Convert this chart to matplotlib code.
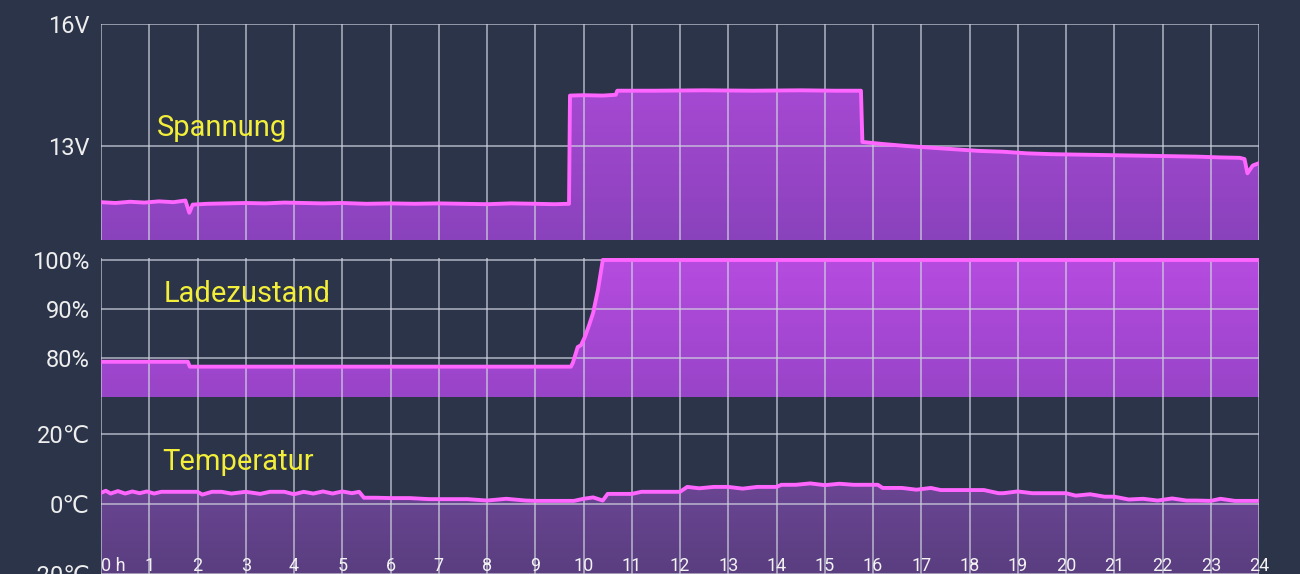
import numpy as np
import matplotlib
matplotlib.use('Agg')
import matplotlib.pyplot as plt
from matplotlib.colors import LinearSegmentedColormap
from matplotlib.patches import PathPatch

plt.rcParams['font.family'] = ['Roboto', 'DejaVu Sans']

# Spannung (V) over the day
volt_h = [0.0, 0.3, 0.6, 0.9, 1.2, 1.5, 1.75, 1.83, 1.9, 2.2,
          2.6, 3.0, 3.4, 3.8, 4.2, 4.6, 5.0, 5.5, 6.0, 6.5,
          7.0, 7.5, 8.0, 8.5, 9.0, 9.4, 9.70, 9.72, 10.0, 10.4,
          10.67, 10.70, 11.5, 12.5, 13.5, 14.5, 15.2, 15.75, 15.78, 16.2,
          16.7, 17.2, 17.7, 18.2, 18.7, 19.2, 19.7, 20.2, 20.7, 21.2,
          21.7, 22.2, 22.7, 23.2, 23.6, 23.7, 23.76, 23.87, 24.0]
volt_v = [11.62, 11.60, 11.63, 11.61, 11.64, 11.62, 11.66, 11.36, 11.56, 11.58,
          11.59, 11.60, 11.59, 11.61, 11.60, 11.59, 11.60, 11.58, 11.59, 11.58,
          11.59, 11.58, 11.57, 11.59, 11.58, 11.57, 11.58, 14.24, 14.25, 14.24,
          14.26, 14.36, 14.36, 14.37, 14.36, 14.37, 14.36, 14.36, 13.10, 13.05,
          13.00, 12.96, 12.92, 12.88, 12.86, 12.82, 12.80, 12.79, 12.78, 12.77,
          12.76, 12.75, 12.74, 12.72, 12.71, 12.68, 12.33, 12.52, 12.58]

# Ladezustand (%)
soc_h = [0.0, 1.80, 1.84, 9.74, 9.78, 9.88, 9.95, 10.03, 10.12, 10.20, 10.30, 10.40, 24.0]
soc_v = [79.2, 79.2, 78.2, 78.2, 79.0, 82.2, 82.6, 84.3, 86.8, 89.2, 93.9, 100.0, 100.0]

# Temperatur (C)
temp_h = [0.00, 0.10, 0.20, 0.35, 0.50, 0.65, 0.80, 0.95, 1.10, 1.25,
          1.40, 1.60, 1.80, 2.00, 2.10, 2.30, 2.50, 2.70, 3.00, 3.30,
          3.50, 3.80, 4.00, 4.20, 4.40, 4.60, 4.80, 5.00, 5.20, 5.35,
          5.45, 5.70, 6.00, 6.40, 6.80, 7.20, 7.60, 8.00, 8.40, 8.80,
          9.00, 9.50, 9.80, 10.00, 10.20, 10.40, 10.50, 10.70, 11.00, 11.20,
          11.40, 11.70, 12.00, 12.15, 12.40, 12.70, 13.00, 13.30, 13.60, 14.00,
          14.10, 14.40, 14.70, 15.00, 15.30, 15.60, 15.80, 16.10, 16.20, 16.60,
          16.90, 17.20, 17.40, 17.70, 18.00, 18.30, 18.60, 18.70, 19.00, 19.30,
          19.60, 20.00, 20.20, 20.50, 20.80, 21.00, 21.30, 21.60, 21.90, 22.20,
          22.50, 22.70, 23.00, 23.20, 23.50, 24.00]
temp_v = [3.2, 3.8, 3.0, 3.7, 3.0, 3.6, 3.1, 3.6, 3.0, 3.5,
          3.5, 3.5, 3.5, 3.5, 2.7, 3.5, 3.5, 3.0, 3.5, 2.9,
          3.5, 3.5, 2.8, 3.5, 3.0, 3.6, 3.0, 3.6, 3.1, 3.5,
          1.8, 1.8, 1.7, 1.7, 1.4, 1.4, 1.4, 1.0, 1.5, 1.0,
          0.9, 0.9, 0.9, 1.5, 1.9, 1.0, 2.9, 2.9, 2.9, 3.5,
          3.5, 3.5, 3.5, 4.9, 4.5, 4.9, 4.9, 4.4, 4.9, 4.9,
          5.5, 5.5, 5.9, 5.4, 5.8, 5.5, 5.5, 5.5, 4.6, 4.6,
          4.1, 4.6, 4.0, 4.0, 4.0, 4.0, 3.1, 3.1, 3.6, 3.1,
          3.1, 3.1, 2.4, 2.8, 2.1, 2.1, 1.3, 1.5, 1.0, 1.6,
          1.0, 1.0, 0.9, 1.5, 0.9, 0.9]

hour_labels = ['0 h'] + [str(h) for h in range(1, 25)]

BG = '#2b3449'
LINE = '#ff66ff'
GRID = '#cfd2de'
TITLE = '#f2ee3a'

fig = plt.figure(figsize=(13, 5.74), dpi=100, facecolor=BG)


def panel(rect, ylim, yticks, ylabels, hours, values, title, tx, ty, c_top, c_bot):
    ax = fig.add_axes(rect)
    ax.set_facecolor(BG)
    for s in ax.spines.values():
        s.set_visible(False)

    # gradient fill under the line, clipped to the area shape
    area = ax.fill_between(hours, values, ylim[0], color='none', lw=0)
    patch = PathPatch(area.get_paths()[0], transform=ax.transData,
                      facecolor='none', edgecolor='none')
    ax.add_patch(patch)
    cmap = LinearSegmentedColormap.from_list('g', [c_bot, c_top])
    grad = np.linspace(1, 0, 256).reshape(-1, 1)
    im = ax.imshow(grad, cmap=cmap, aspect='auto', origin='upper',
                   extent=[0, 24, ylim[0], ylim[1]], zorder=1, vmin=0, vmax=1)
    im.set_clip_path(patch)

    ax.plot(hours, values, color=LINE, lw=2.8, zorder=4, solid_joinstyle='round')

    ax.set_xlim(0, 24)
    ax.set_ylim(*ylim)
    ax.set_xticks(range(25))
    ax.set_yticks(yticks)
    ax.set_yticklabels(ylabels)
    ax.set_axisbelow(False)
    ax.grid(True, color=GRID, lw=1.2, alpha=0.75, zorder=3)
    ax.tick_params(axis='y', length=0, pad=8, labelsize=17, labelcolor='#eeeeee')
    ax.tick_params(axis='x', length=0, labelbottom=False)
    ax.text(tx, ty, title, transform=ax.transAxes, color=TITLE, fontsize=21,
            va='baseline', ha='left', zorder=6)
    return ax


W = 1300
H = 574
left = 101 / W
width = (1259 - 101) / W

ax1 = panel([left, 1 - 240 / H, width, 216 / H], (10.69, 16.0), [13, 16], ['13V', '16V'],
            volt_h, volt_v, 'Spannung', 0.048, 0.481, '#b24cdc', '#8a42bc')
ax2 = panel([left, 1 - 397 / H, width, 139 / H], (72.0, 100.4), [80, 90, 100],
            ['80%', '90%', '100%'], soc_h, soc_v, 'Ladezustand', 0.054, 0.683,
            '#b64ce0', '#9844c8')
ax3 = panel([left, 0, width, 177 / H], (-20, 30.6), [-20, 0, 20],
            ['-20\u2103', '0\u2103', '20\u2103'], temp_h, temp_v, 'Temperatur',
            0.053, 0.588, '#7a4ca6', '#5a3e80')

ax3.tick_params(axis='x', labelbottom=True, direction='in', pad=-12,
                labelsize=13, labelcolor='#f2f2f2')
ax3.set_xticklabels(hour_labels)
ax3.get_xticklabels()[0].set_ha('left')

fig.savefig('out.png', dpi=100, facecolor=BG)
